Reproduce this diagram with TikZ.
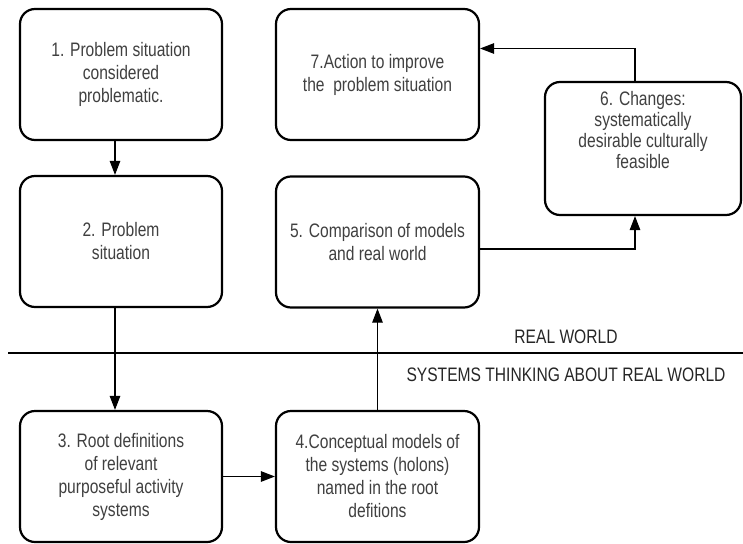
\documentclass[tikz,border=0pt]{standalone}
\usepackage{fontspec}
\setmainfont[FakeStretch=0.8]{Liberation Sans}
\usetikzlibrary{arrows.meta}
\begin{document}
\begin{tikzpicture}[x=1pt,y=-1pt,
  box/.style={draw=black, line width=2.2pt, rounded corners=15pt, fill=white,
    minimum width=#1, minimum height=131pt, inner sep=0pt},
  txt/.style={align=center, text=black!75, font=\fontsize{19.5}{23}\selectfont},
  arr/.style={draw=black, line width=1.1pt, -{Triangle[length=14pt,width=10.5pt]}},
  sep/.style={draw=black, line width=2pt},
  lab/.style={text=black!85, font=\fontsize{19.5}{23}\selectfont}]
\useasboundingbox (0,0) rectangle (743,543);
% boxes
\node[box=202pt] (n1) at (121,74.5) {};
\node[txt] at (n1) {1. Problem situation\\considered\\problematic.};
\node[box=202pt] (n2) at (121,241.5) {};
\node[txt] at (n2) {2. Problem\\situation};
\node[box=202pt] (n3) at (121,476.5) {};
\node[txt] at (n3) {3. Root definitions\\of relevant\\purposeful activity\\systems};
\node[box=203pt] (n4) at (377.5,476.5) {};
\node[txt] at (n4) {4.Conceptual models of\\the systems (holons)\\named in the root\\defitions};
\node[box=203pt] (n5) at (377.5,242) {};
\node[txt] at (n5) {5. Comparison of models\\and real world};
\node[box=203pt] (n7) at (377.5,74.5) {};
\node[txt] at (n7) {7.Action to improve\\the\ \ problem situation};
\node[box=196pt, minimum height=133pt] (n6) at (643,148.5) {};
\node[txt, font=\fontsize{19.5}{21}\selectfont, anchor=north] at ([yshift=-7pt]n6.north) {6. Changes:\\systematically\\desirable culturally\\feasible};
% separator
\coordinate (sl) at (8,353);
\coordinate (sr) at (743,353);
\draw[sep] (sl) -- (sr);
\node[lab] (rw) at (566,337) {REAL WORLD};
\node[lab] (st) at (566,375) {SYSTEMS THINKING ABOUT REAL WORLD};
% connectors
\draw[arr] ([xshift=-6pt]n1.south) -- ([xshift=-6pt]n2.north);
\draw[arr] ([xshift=-6pt]n2.south) -- ([xshift=-6pt]n3.north);
\draw[arr] (n3.east) -- (n4.west);
\draw[arr] (n4.north) -- (n5.south);
\draw[arr] ([yshift=-7pt]n5.east) -| ([xshift=-8pt]n6.south);
\draw[arr] ([xshift=-8pt]n6.north) |- ([yshift=26pt]n7.east);
\end{tikzpicture}
\end{document}
